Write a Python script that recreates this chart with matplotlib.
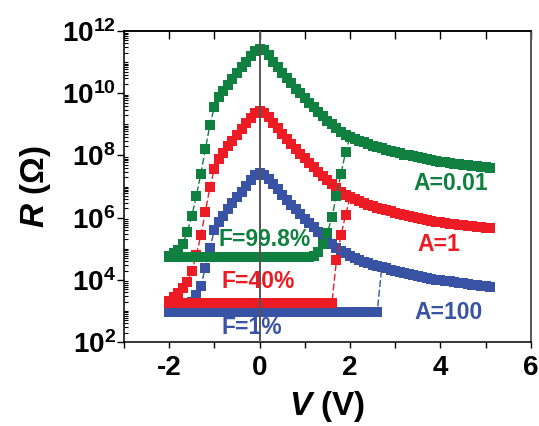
import numpy as np
import matplotlib
matplotlib.use("Agg")
import matplotlib.pyplot as plt
from matplotlib.ticker import LogLocator, NullFormatter, FixedLocator

plt.rcParams['font.family'] = ['Liberation Sans', 'DejaVu Sans']
plt.rcParams['font.weight'] = 'bold'
plt.rcParams['axes.unicode_minus'] = False
plt.rcParams['mathtext.fontset'] = 'custom'
plt.rcParams['mathtext.rm'] = 'Liberation Sans:bold'
plt.rcParams['mathtext.bf'] = 'Liberation Sans:bold'
plt.rcParams['mathtext.it'] = 'Liberation Sans:italic:bold'

GREEN = '#108040'
RED = '#ED1C24'
BLUE = '#3953A4'

# sweep 0 -> -2 V (HRS decreasing, then switching to LRS), log10(R)
v_left = np.round(np.arange(0, -2.05, -0.1), 1)
green_left = [11.42, 11.36, 11.2, 11.02, 10.84, 10.65, 10.46, 10.27, 10.07, 9.88, 9.56,
              8.98, 8.2, 7.42, 6.69, 6.05, 5.54, 5.15, 4.95, 4.85, 4.78]
red_left = [9.43, 9.38, 9.22, 9.04, 8.86, 8.67, 8.48, 8.29, 8.09, 7.88, 7.56,
            6.98, 6.18, 5.43, 4.8, 4.27, 3.93, 3.75, 3.58, 3.45, 3.32]
blue_left = [7.43, 7.37, 7.2, 7.02, 6.84, 6.65, 6.46, 6.27, 6.07, 5.86, 5.6,
             5.02, 4.38, 3.8, 3.5, 3.3, 3.15, 3.06, 3.0, 2.97, 2.96]

# sweep -2 V -> positive in LRS, then reset to HRS
v_green_lrs = np.round(np.arange(-2.0, 2.05, 0.1), 1)
green_lrs = [4.75, 4.74, 4.73, 4.73, 4.73, 4.73, 4.73, 4.73, 4.73, 4.73,
             4.73, 4.73, 4.73, 4.73, 4.73, 4.73, 4.73, 4.73, 4.73, 4.73,
             4.73, 4.73, 4.73, 4.73, 4.73, 4.73, 4.73, 4.73, 4.73, 4.73,
             4.74, 4.75, 4.78, 4.9, 5.15, 5.52, 6.03, 6.71, 7.42, 8.1, 8.6]
v_red_lrs = np.round(np.arange(-2.0, 2.05, 0.1), 1)
red_lrs = [3.27, 3.27, 3.27, 3.27, 3.27, 3.27, 3.27, 3.27, 3.27, 3.27,
           3.27, 3.27, 3.27, 3.27, 3.27, 3.27, 3.27, 3.27, 3.27, 3.27,
           3.27, 3.27, 3.27, 3.27, 3.27, 3.27, 3.27, 3.27, 3.27, 3.27,
           3.27, 3.27, 3.27, 3.27, 3.27, 3.27, 3.27, 4.64, 5.44, 6.08, 6.66]
v_blue_lrs = np.round(np.arange(-2.0, 2.75, 0.1), 1)
blue_lrs = [2.96, 2.96, 2.96, 2.96, 2.96, 2.96, 2.96, 2.96, 2.96, 2.96,
            2.96, 2.96, 2.96, 2.96, 2.96, 2.96, 2.96, 2.96, 2.96, 2.96,
            2.96, 2.96, 2.96, 2.96, 2.96, 2.96, 2.96, 2.96, 2.96, 2.96,
            2.96, 2.96, 2.96, 2.96, 2.96, 2.96, 2.96, 2.96, 2.96, 2.96,
            2.96, 2.96, 2.96, 2.96, 2.96, 2.96, 2.96, 4.4]

# HRS branch 0 -> 5.1 V
v_right = np.round(np.arange(0, 5.15, 0.1), 1)
green_right = [11.42, 11.38, 11.22, 11.02, 10.84, 10.66, 10.48, 10.32, 10.15, 10.0,
               9.85, 9.7, 9.55, 9.4, 9.26, 9.12, 9.0, 8.88, 8.77, 8.67,
               8.6, 8.53, 8.47, 8.42, 8.37, 8.32, 8.27, 8.23, 8.19, 8.15,
               8.11, 8.07, 8.03, 8.0, 7.97, 7.94, 7.91, 7.88, 7.85, 7.82,
               7.8, 7.78, 7.76, 7.74, 7.72, 7.7, 7.68, 7.67, 7.65, 7.64,
               7.62, 7.61]
red_right = [9.43, 9.38, 9.24, 9.06, 8.88, 8.7, 8.53, 8.37, 8.21, 8.06,
             7.91, 7.77, 7.62, 7.48, 7.34, 7.2, 7.07, 6.95, 6.84, 6.74,
             6.66, 6.59, 6.53, 6.47, 6.42, 6.37, 6.32, 6.28, 6.24, 6.2,
             6.16, 6.12, 6.08, 6.05, 6.02, 5.99, 5.96, 5.93, 5.9, 5.87,
             5.85, 5.83, 5.81, 5.79, 5.77, 5.75, 5.73, 5.72, 5.7, 5.69,
             5.67, 5.66]
blue_right = [7.43, 7.38, 7.25, 7.08, 6.91, 6.74, 6.58, 6.42, 6.27, 6.12,
              5.97, 5.83, 5.69, 5.55, 5.41, 5.28, 5.16, 5.04, 4.94, 4.85,
              4.77, 4.7, 4.64, 4.58, 4.53, 4.49, 4.45, 4.41, 4.37, 4.33,
              4.29, 4.26, 4.22, 4.19, 4.16, 4.13, 4.1, 4.07, 4.04, 4.01,
              3.99, 3.97, 3.95, 3.93, 3.91, 3.89, 3.87, 3.85, 3.83, 3.81,
              3.79, 3.77]

fig = plt.figure(figsize=(5.39, 4.26), dpi=100)
ax = fig.add_axes([0.230, 0.197, 0.755, 0.730])

ms = 7.9
series = [
    (BLUE, blue_left, v_blue_lrs, blue_lrs, blue_right),
    (RED, red_left, v_red_lrs, red_lrs, red_right),
    (GREEN, green_left, v_green_lrs, green_lrs, green_right),
]
for c, left, v_lrs, lrs, right in series:
    kw = dict(color=c, marker='s', ms=ms, mew=0, lw=1, ls=(0, (5, 2)))
    ax.plot(v_left, 10 ** np.array(left), **kw)
    ax.plot(v_lrs, 10 ** np.array(lrs), **kw)
    ax.plot(v_right, 10 ** np.array(right), **kw)

ax.axvline(0, color='#555555', lw=1.4, zorder=5)

ax.set_yscale('log')
ax.set_xlim(-3, 6)
ax.set_ylim(1e2, 1e12)

# x axis
ax.set_xticks([-2, 0, 2, 4, 6])
ax.set_xticklabels(['-2', '0', '2', '4', '6'])
ax.xaxis.set_minor_locator(FixedLocator([-3, -1, 1, 3, 5]))
ax.tick_params(axis='x', which='both', direction='out', length=4, width=1,
               labelsize=20, pad=5, top=False)
top = ax.secondary_xaxis('top')
top.set_xticks([-2, 0, 2, 4, 6])
top.xaxis.set_minor_locator(FixedLocator([-3, -1, 1, 3, 5]))
top.tick_params(which='both', direction='in', length=6, width=1, labeltop=False)
top.set_xticklabels([])

# y axis
yt = [1e2, 1e4, 1e6, 1e8, 1e10, 1e12]
ax.set_yticks(yt)
ax.set_yticklabels([r'$\mathbf{10^{%d}}$' % e for e in [2, 4, 6, 8, 10, 12]])
ax.yaxis.set_minor_locator(LogLocator(base=10, subs=np.arange(1, 10), numticks=30))
ax.yaxis.set_minor_formatter(NullFormatter())
ax.tick_params(axis='y', which='major', direction='out', length=5, width=1,
               labelsize=20, pad=1)
ax.tick_params(axis='y', which='minor', direction='in', length=3, width=0.8)
ax.tick_params(axis='y', right=False)

for s in ['left', 'bottom', 'top']:
    ax.spines[s].set_linewidth(1.1)
ax.spines['right'].set_color('#555555')
ax.spines['right'].set_linewidth(1.4)
top.spines['top'].set_linewidth(1.1)

ax.set_xlabel(r'$V$ (V)', fontsize=24, fontweight='bold', labelpad=6)
ax.set_ylabel(r'$R$ (Ω)', fontsize=24, fontweight='bold', labelpad=6)

tk = dict(ha='center', va='center', fontsize=16.5, fontweight='bold', zorder=6)
ax.text(4.22, 10 ** 7.11, 'A=0.01', color=GREEN, **tk)
ax.text(3.96, 10 ** 5.14, 'A=1', color=RED, **tk)
ax.text(4.18, 10 ** 2.96, 'A=100', color=BLUE, **tk)
ax.text(0.11, 10 ** 5.31, 'F=99.8%', color=GREEN, **tk)
ax.text(-0.04, 10 ** 3.96, 'F=40%', color=RED, **tk)
ax.text(-0.18, 10 ** 2.48, 'F=1%', color=BLUE, **tk)

fig.savefig('out.png', dpi=100)
